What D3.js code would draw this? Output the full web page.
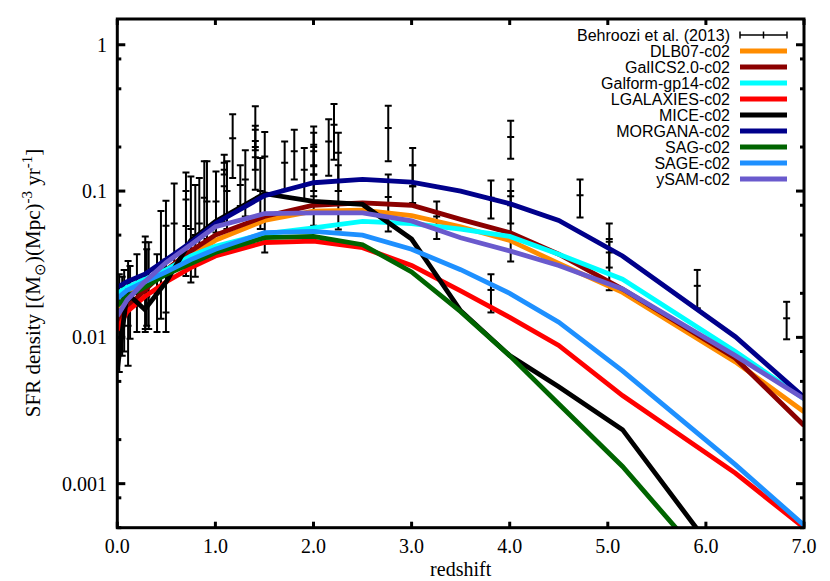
<!DOCTYPE html>
<html><head><meta charset="utf-8">
<script src="https://cdn.jsdelivr.net/npm/d3@7"></script>
<style>
body{margin:0;background:#fff;}
svg{display:block;}
</style></head>
<body>
<svg id="chart" width="830" height="581"></svg>
<script>
// ---------- DATA ----------
const redshift = [0, 0.1, 0.28, 0.5, 0.75, 1.0, 1.5, 2.0, 2.5, 3.0, 3.5, 4.0, 4.5, 5.15, 6.3, 7.0];
const dlb07     = [0.016, 0.019, 0.023, 0.028, 0.036, 0.046, 0.063, 0.073, 0.074, 0.068, 0.057, 0.046, 0.032, 0.0203, 0.0068, 0.0031];
const galics    = [0.0122, 0.016, 0.021, 0.029, 0.039, 0.050, 0.067, 0.080, 0.083, 0.080, 0.064, 0.052, 0.037, 0.0214, 0.0072, 0.0025];
const galform   = [0.0200, 0.022, 0.025, 0.029, 0.036, 0.042, 0.051, 0.056, 0.062, 0.060, 0.055, 0.049, 0.037, 0.025, 0.0080, 0.0038];
const lgalaxies = [0.0112, 0.015, 0.019, 0.024, 0.030, 0.036, 0.0445, 0.0455, 0.041, 0.031, 0.0208, 0.0137, 0.0088, 0.0040, 0.00118, 0.0005];
const mice      = [0.006, 0.02, 0.0155, 0.024, 0.046, 0.062, 0.096, 0.085, 0.081, 0.047, 0.0152, 0.0075, 0.0046, 0.00234, 0.00022, 0.00005];
const morgana   = [0.022, 0.024, 0.027, 0.034, 0.0445, 0.060, 0.093, 0.114, 0.120, 0.115, 0.100, 0.082, 0.063, 0.036, 0.0101, 0.0039];
const sag       = [0.0165, 0.019, 0.022, 0.027, 0.032, 0.038, 0.048, 0.049, 0.043, 0.028, 0.015, 0.0075, 0.0035, 0.00131, 0.00017, 0.00004];
const sage      = [0.0185, 0.021, 0.024, 0.028, 0.034, 0.040, 0.052, 0.053, 0.050, 0.040, 0.029, 0.020, 0.0127, 0.0059, 0.00135, 0.00052];
const ysam      = [0.014, 0.018, 0.024, 0.0325, 0.043, 0.057, 0.070, 0.071, 0.071, 0.0625, 0.048, 0.039, 0.031, 0.0214, 0.0075, 0.0038];

const modelNames  = ["DLB07-c02","GalICS2.0-c02","Galform-gp14-c02","LGALAXIES-c02","MICE-c02","MORGANA-c02","SAG-c02","SAGE-c02","ySAM-c02"];
const modelColors = ["#ff8c00","#8b0000","#00ffff","#ff0000","#000000","#00008b","#006400","#1e90ff","#6a5acd"];
const modelValues = [dlb07, galics, galform, lgalaxies, mice, morgana, sag, sage, ysam];

// Behroozi et al. (2013) compilation
const obsZ   = [0.02,0.05,0.07,0.11,0.13,0.2,0.285,0.285,0.3,0.32,0.405,0.445,0.496,0.496,0.58,0.70,0.70,0.75,0.795,0.836,0.887,0.914,1.006,1.09,1.09,1.118,1.176,1.254,1.305,1.407,1.407,1.407,1.458,1.503,1.706,1.804,1.906,2.002,2.002,2.002,2.002,2.155,2.209,2.253,2.253,2.762,2.762,3.011,3.011,3.256,3.809,3.809,4.01,4.01,4.01,4.717,5.015,5.015,5.912,6.823];
const obsSFR = [0.0134,0.016,0.0155,0.012,0.017,0.02,0.025,0.022,0.019,0.02,0.02,0.03,0.034,0.03,0.06,0.0876,0.0576,0.055,0.05,0.06,0.09,0.085,0.085,0.156,0.108,0.1,0.23,0.11,0.12,0.262,0.2,0.17,0.1,0.172,0.156,0.187,0.14,0.207,0.187,0.1475,0.092,0.218,0.2835,0.183,0.1,0.27,0.091,0.15,0.108,0.067,0.09,0.0211,0.234,0.092,0.08,0.0936,0.047,0.038,0.0225,0.0135];
const obsLo  = [0.0058,0.0075,0.008,0.0064,0.0098,0.0109,0.0109,0.0114,0.012,0.0114,0.0109,0.0134,0.0109,0.0148,0.031,0.0263,0.03,0.0237,0.026,0.0326,0.052,0.047,0.052,0.13,0.061,0.055,0.123,0.079,0.067,0.19,0.14,0.102,0.055,0.038,0.102,0.12,0.0876,0.15,0.13,0.1,0.058,0.127,0.164,0.1,0.0547,0.16,0.053,0.108,0.083,0.047,0.065,0.0148,0.166,0.033,0.06,0.066,0.021,0.03,0.0158,0.0097];
const obsHi  = [0.027,0.026,0.0289,0.0333,0.0308,0.037,0.049,0.0446,0.04,0.0446,0.037,0.073,0.086,0.058,0.1125,0.134,0.1,0.126,0.11,0.123,0.16,0.16,0.136,0.177,0.14,0.16,0.335,0.15,0.19,0.38,0.28,0.22,0.168,0.253,0.218,0.262,0.197,0.276,0.25,0.2,0.13,0.31,0.394,0.25,0.15,0.3835,0.13,0.197,0.15,0.085,0.118,0.027,0.302,0.12,0.1,0.12,0.06,0.045,0.0289,0.0175];

const xTicks = [0,1,2,3,4,5,6,7];
const xTickLabels = ["0.0","1.0","2.0","3.0","4.0","5.0","6.0","7.0"];
const yTicks = [0.001, 0.01, 0.1, 1];
const yTickLabels = ["0.001","0.01","0.1","1"];

// ---------- LAYOUT ----------
const svg = d3.select("#chart");
const L = 117.3, R = 804, T = 19, B = 527.7;
const x = d3.scaleLinear().domain([0, 7]).range([L, R]);
const y = d3.scaleLog().domain([0.0005, 1.5]).range([B, T]);

svg.append("defs").append("clipPath").attr("id","clip")
  .append("rect").attr("x",L).attr("y",T).attr("width",R-L).attr("height",B-T);

const serif = "'Liberation Serif','Times New Roman',serif";
const sans = "'Liberation Sans',Arial,Helvetica,sans-serif";

// minor ticks 2,5,8 per decade
const minor = [];
[0.0001,0.001,0.01,0.1,1].forEach(d => [2,5,8].forEach(m => { const v=d*m; if (v>=0.0005 && v<=1.5) minor.push(v); }));

const tickG = svg.append("g").attr("stroke","#000");
yTicks.forEach(v => {
  tickG.append("line").attr("x1",L).attr("x2",L+8).attr("y1",y(v)).attr("y2",y(v)).attr("stroke-width",3);
  tickG.append("line").attr("x1",R).attr("x2",R-8).attr("y1",y(v)).attr("y2",y(v)).attr("stroke-width",3);
});
minor.forEach(v => {
  tickG.append("line").attr("x1",L).attr("x2",L+4).attr("y1",y(v)).attr("y2",y(v)).attr("stroke-width",3);
  tickG.append("line").attr("x1",R).attr("x2",R-4).attr("y1",y(v)).attr("y2",y(v)).attr("stroke-width",3);
});
xTicks.forEach(v => {
  tickG.append("line").attr("x1",x(v)).attr("x2",x(v)).attr("y1",B).attr("y2",B-6).attr("stroke-width",3);
  tickG.append("line").attr("x1",x(v)).attr("x2",x(v)).attr("y1",T).attr("y2",T+6).attr("stroke-width",3);
});

// tick labels
svg.append("g").selectAll("text").data(xTicks).join("text")
  .attr("x", d => x(d)).attr("y", 553).attr("text-anchor","middle")
  .attr("font-family", serif).attr("font-size", 20)
  .text((d,i) => xTickLabels[i]);
svg.append("g").selectAll("text").data(yTicks).join("text")
  .attr("x", 107).attr("y", d => y(d)).attr("dy","0.35em").attr("text-anchor","end")
  .attr("font-family", serif).attr("font-size", 20)
  .text((d,i) => yTickLabels[i]);

// axis titles
svg.append("text").attr("x", (L+R)/2).attr("y", 576).attr("text-anchor","middle")
  .attr("font-family", serif).attr("font-size", 20).text("redshift");

const yl = svg.append("text").attr("transform","translate(40,283) rotate(-90)")
  .attr("text-anchor","middle").attr("font-family", serif).attr("font-size", 21);
yl.append("tspan").text("SFR density [(M");
yl.append("tspan").attr("dy", 5).attr("font-size", 15).text("\u2299");
yl.append("tspan").attr("dy", -5).text(")(Mpc)");
yl.append("tspan").attr("dy", -8).attr("font-size", 15).text("-3");
yl.append("tspan").attr("dy", 8).text(" yr");
yl.append("tspan").attr("dy", -8).attr("font-size", 15).text("-1");
yl.append("tspan").attr("dy", 8).text("]");

// observations
const obs = obsZ.map((z,i) => ({z, v:obsSFR[i], lo:obsLo[i], hi:obsHi[i]}));
const eg = svg.append("g").attr("clip-path","url(#clip)").attr("stroke","#000").attr("stroke-width",2);
obs.forEach(d => {
  const cx = x(d.z);
  eg.append("line").attr("x1",cx).attr("x2",cx).attr("y1",y(d.lo)).attr("y2",y(d.hi));
  eg.append("line").attr("x1",cx-3.5).attr("x2",cx+3.5).attr("y1",y(d.lo)).attr("y2",y(d.lo));
  eg.append("line").attr("x1",cx-3.5).attr("x2",cx+3.5).attr("y1",y(d.hi)).attr("y2",y(d.hi));
  eg.append("line").attr("x1",cx-3.5).attr("x2",cx+3.5).attr("y1",y(d.v)).attr("y2",y(d.v));
});

// model curves
const line = d3.line().x(d => x(d[0])).y(d => y(d[1]));
const cg = svg.append("g").attr("clip-path","url(#clip)");
modelValues.forEach((vals, i) => {
  cg.append("path").datum(redshift.map((z,j) => [z, vals[j]]))
    .attr("d", line).attr("fill","none").attr("stroke", modelColors[i])
    .attr("stroke-width", 4.8).attr("stroke-linejoin","miter");
});

// frame
svg.append("rect").attr("x",L).attr("y",T).attr("width",R-L).attr("height",B-T)
  .attr("fill","none").attr("stroke","#000").attr("stroke-width",3);

// legend
const lg = svg.append("g");
const ly0 = 35, ldy = 16.0;
const textX = 730, s1 = 740, s2 = 787;
lg.append("text").attr("x",textX).attr("y",ly0).attr("dy","0.35em").attr("text-anchor","end")
  .attr("font-family",sans).attr("font-size",16).text("Behroozi et al. (2013)");
lg.append("line").attr("x1",s1).attr("x2",s2).attr("y1",ly0).attr("y2",ly0).attr("stroke","#000").attr("stroke-width",1.5);
[s1,(s1+s2)/2,s2].forEach(px => lg.append("line").attr("x1",px).attr("x2",px).attr("y1",ly0-3.5).attr("y2",ly0+3.5).attr("stroke","#000").attr("stroke-width",1.5));
modelNames.forEach((n,i) => {
  const yy = ly0 + ldy*(i+1);
  lg.append("text").attr("x",textX).attr("y",yy).attr("dy","0.35em").attr("text-anchor","end")
    .attr("font-family",sans).attr("font-size",16).text(n);
  lg.append("line").attr("x1",s1).attr("x2",s2).attr("y1",yy).attr("y2",yy)
    .attr("stroke",modelColors[i]).attr("stroke-width",4.8);
});
</script>
</body></html>
